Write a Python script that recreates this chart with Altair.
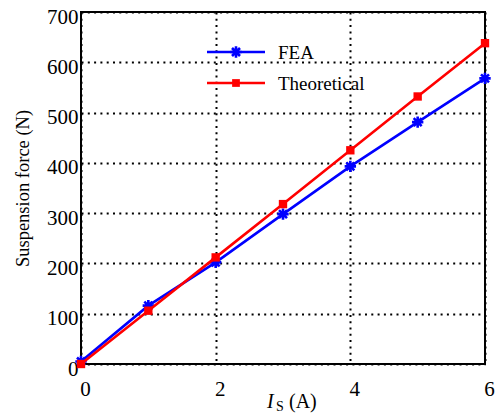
import altair as alt
import pandas as pd

# Excitation current (A) and suspension force (N)
current = [0, 1, 2, 3, 4, 5, 6]
force_fea = [5, 116, 202, 298, 393, 481, 568]
force_theory = [0, 106, 212, 318, 425, 532, 638]

series_names = ["FEA", "Theoretical"]
series_colors = ["#0000ff", "#ff0000"]

FONT = "Liberation Serif"
ASTERISK = "M-1,0L1,0M0,-1L0,1M-0.7,-0.7L0.7,0.7M-0.7,0.7L0.7,-0.7"

df = pd.DataFrame({
    "Is": current * 2,
    "F": force_fea + force_theory,
    "series": [series_names[0]] * len(current) + [series_names[1]] * len(current),
})

x_enc = alt.X(
    "Is:Q",
    scale=alt.Scale(domain=[0, 6], nice=False),
    axis=alt.Axis(values=[0, 2, 4, 6], format="d", title=None, labelPadding=14, labelOffset=4,
                  labelFlush=False),
)
y_enc = alt.Y(
    "F:Q",
    scale=alt.Scale(domain=[0, 700], nice=False),
    axis=alt.Axis(
        values=[0, 100, 200, 300, 400, 500, 600, 700],
        format="d",
        title="Suspension force (N)",
        titleX=-59,
        titleY=176,
        titleAngle=-90,
        titleAlign="center",
        titleBaseline="middle",
        titleFontSize=18.5,
        titleFontWeight="normal",
        titleColor="black",
        labelFlush=False,
        labelPadding=3,
        labelOffset=5,
    ),
)

base = alt.Chart(df)

fea = base.transform_filter(alt.datum.series == "FEA")
theo = base.transform_filter(alt.datum.series == "Theoretical")

fea_line = fea.mark_line(color=series_colors[0], strokeWidth=2.6).encode(x=x_enc, y=y_enc)
fea_pts = fea.mark_point(
    shape=ASTERISK, size=130, filled=False, color=series_colors[0], strokeWidth=2.6, opacity=1
).encode(x="Is:Q", y="F:Q")
theo_line = theo.mark_line(color=series_colors[1], strokeWidth=2.6).encode(x="Is:Q", y="F:Q")
theo_pts = theo.mark_square(size=70, color=series_colors[1], opacity=1).encode(x="Is:Q", y="F:Q")

# Legend (line + marker + label), boxed off
leg_rows = [40, 71]
legend_layers = []
for name, color, ly in zip(series_names, series_colors, leg_rows):
    ldf = pd.DataFrame({"series": [name]})
    lc = alt.Chart(ldf)
    legend_layers.append(
        lc.mark_rule(color=color, strokeWidth=2.6).encode(
            x=alt.value(126), x2=alt.value(184), y=alt.value(ly)
        )
    )
    if name == "FEA":
        legend_layers.append(
            lc.mark_point(shape=ASTERISK, size=130, filled=False, color=color,
                          strokeWidth=2.6, opacity=1).encode(x=alt.value(155), y=alt.value(ly))
        )
    else:
        legend_layers.append(
            lc.mark_square(size=60, color=color, opacity=1).encode(
                x=alt.value(155), y=alt.value(ly)
            )
        )
    legend_layers.append(
        lc.mark_text(font=FONT, fontSize=19, align="left", baseline="middle", color="black").encode(
            x=alt.value(197), y=alt.value(ly + 1), text="series:N"
        )
    )

# x-axis title: italic I with subscript S
title_df = pd.DataFrame({"t": ["I", "S", "(A)"]})
tc = alt.Chart(title_df)
xt_I = tc.transform_filter(alt.datum.t == "I").mark_text(
    font=FONT, fontSize=20, fontStyle="italic", align="left", baseline="alphabetic", color="black"
).encode(x=alt.value(186), y=alt.value(396), text="t:N")
xt_S = tc.transform_filter(alt.datum.t == "S").mark_text(
    font=FONT, fontSize=14, align="left", baseline="alphabetic", color="black"
).encode(x=alt.value(195), y=alt.value(399), text="t:N")
xt_A = tc.transform_filter(alt.datum.t == "(A)").mark_text(
    font=FONT, fontSize=20, align="left", baseline="alphabetic", color="black"
).encode(x=alt.value(208), y=alt.value(396), text="t:N")

chart = alt.layer(
    fea_line, fea_pts, theo_line, theo_pts, *legend_layers, xt_I, xt_S, xt_A
).properties(
    width=404,
    height=352,
    autosize="none",
    padding={"left": 81, "top": 12, "right": 10, "bottom": 55},
    background="white",
).configure(
    font=FONT
).configure_view(
    stroke="black", strokeWidth=2
).configure_axis(
    labelFont=FONT,
    labelFontSize=21,
    labelColor="black",
    titleFont=FONT,
    domain=False,
    ticks=False,
    grid=True,
    gridColor="black",
    gridDash=[2, 4.3],
    gridWidth=2,
    gridOpacity=1,
)

chart.save("out.html", embed_options={"renderer": "svg", "actions": False})
